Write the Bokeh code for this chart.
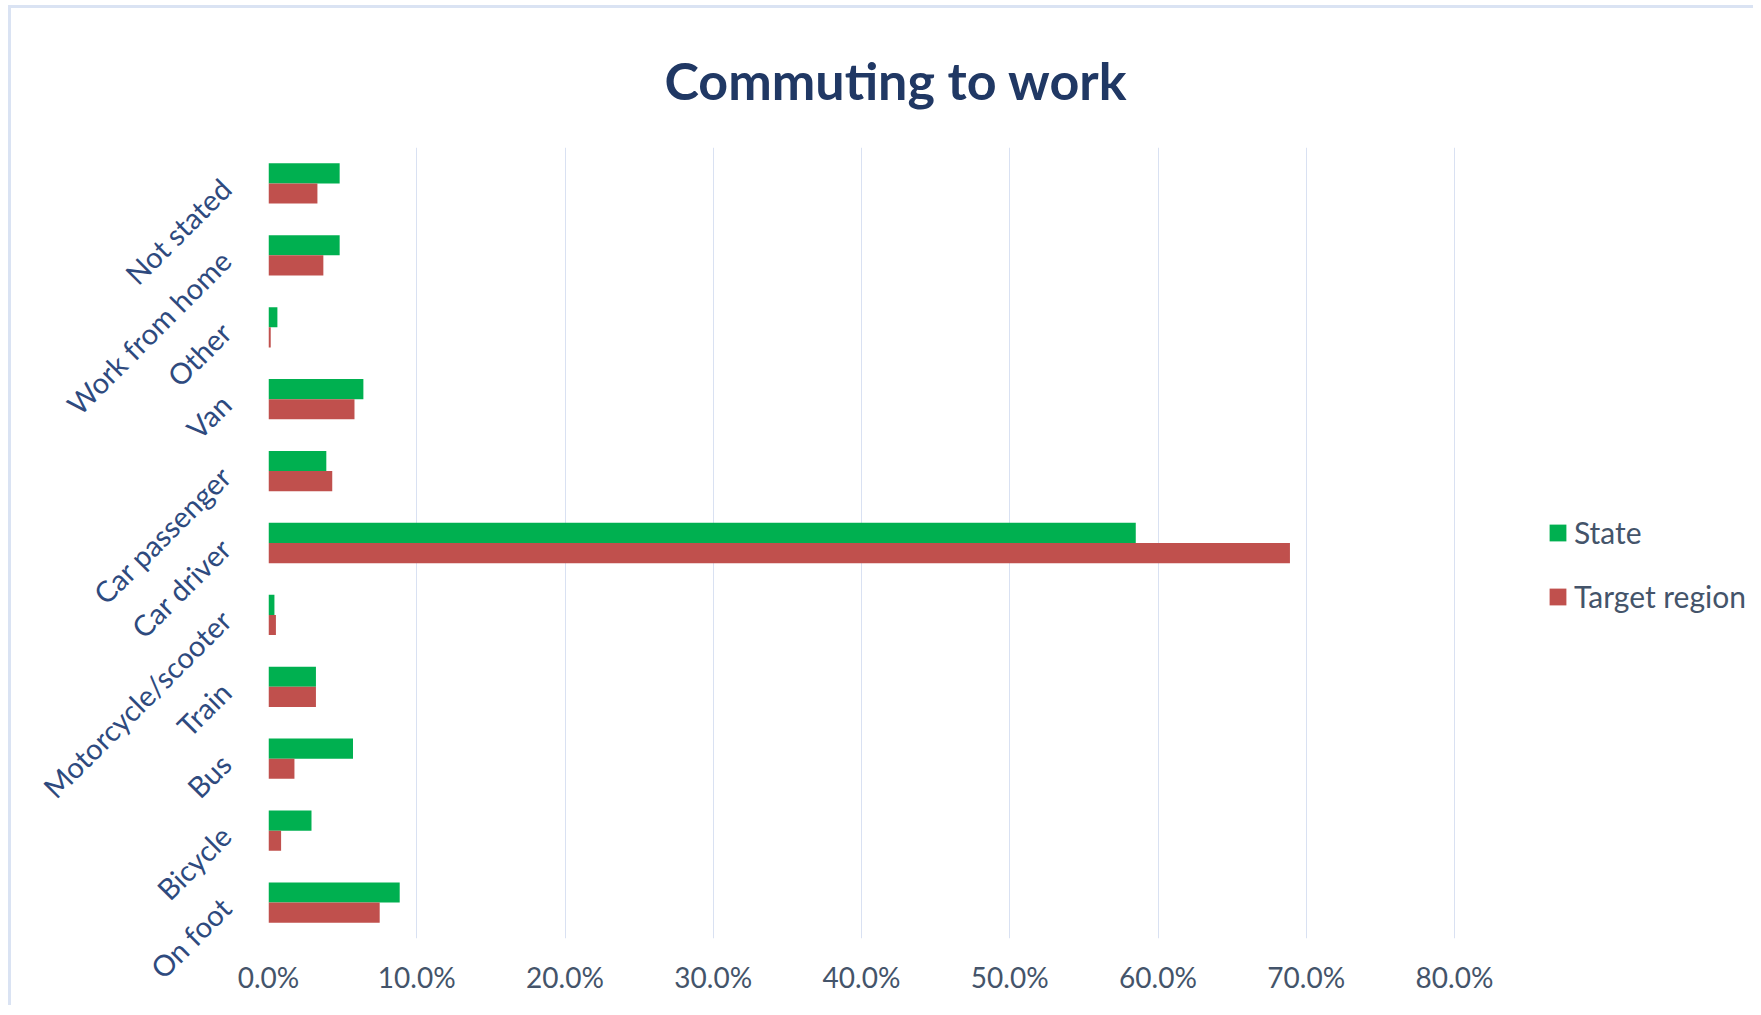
from bokeh.plotting import figure
from bokeh.models import (ColumnDataSource, FactorRange, Range1d, PrintfTickFormatter,
                          FixedTicker, Legend, LegendItem)
from bokeh.transform import dodge
from bokeh.embed import file_html
from bokeh.resources import INLINE
import math

# ---- data (bottom to top) ----
categories = ["On foot", "Bicycle", "Bus", "Train", "Motorcycle/scooter", "Car driver",
              "Car passenger", "Van", "Other", "Work from home", "Not stated"]
state = [8.85, 2.9, 5.7, 3.2, 0.4, 58.5, 3.9, 6.4, 0.6, 4.8, 4.8]
target_region = [7.5, 0.85, 1.75, 3.2, 0.5, 68.9, 4.3, 5.8, 0.15, 3.7, 3.3]
x_ticks = [0, 10, 20, 30, 40, 50, 60, 70, 80]
series_names = ["State", "Target region"]
chart_title = "Commuting to work"

source = ColumnDataSource(dict(cat=categories, state=state, target=target_region))

W, H = 1745, 1000
FL, FT, FB = 257, 139, 930
AXIS_W = 1186          # pixel width of the 0..80% span
x_end = x_ticks[-1] * (W - FL) / AXIS_W

p = figure(width=W, height=H, y_range=FactorRange(*categories), x_range=Range1d(0, x_end),
           output_backend="svg", toolbar_location=None,
           min_border_left=FL, min_border_right=0, min_border_top=FT, min_border_bottom=H - FB)

p.styles = {"border-top": "3px solid #DAE3F3", "border-left": "3px solid #DAE3F3",
            "margin-left": "8px", "margin-top": "5px"}

green = "#00B050"
red = "#C0504D"

r1 = p.hbar(y=dodge("cat", 0.14, range=p.y_range), right="state", left=0, height=0.28,
            source=source, fill_color=green, line_color=None)
r2 = p.hbar(y=dodge("cat", -0.14, range=p.y_range), right="target", left=0, height=0.28,
            source=source, fill_color=red, line_color=None)

# title
p.title.text = chart_title
p.title.text_font = "Lato"
p.title.text_font_size = "52px"
p.title.text_font_style = "bold"
p.title.text_color = "#203864"
p.title.align = "left"
p.title.offset = 396
p.title.standoff = 73

# axes
xa = p.below[0]
xa.ticker = FixedTicker(ticks=x_ticks)
xa.formatter = PrintfTickFormatter(format="%.1f%%")
xa.axis_line_color = None
xa.major_tick_line_color = None
xa.minor_tick_line_color = None
xa.major_label_text_font = "Lato"
xa.major_label_text_font_size = "28px"
xa.major_label_text_color = "#44546A"
xa.major_label_standoff = 15

ya = p.left[0]
ya.axis_line_color = None
ya.major_tick_line_color = None
ya.minor_tick_line_color = None
ya.major_label_text_font = "Lato"
ya.major_label_text_font_size = "29px"
ya.major_label_text_color = "#2E4A7E"
ya.major_label_orientation = math.pi / 4
ya.major_label_standoff = 37

p.xgrid.grid_line_color = "#D9E1F2"
p.xgrid.grid_line_width = 1
p.ygrid.grid_line_color = None

p.outline_line_color = None
p.background_fill_color = "white"
p.border_fill_color = "white"

legend = Legend(items=[LegendItem(label=series_names[0], renderers=[r1]),
                       LegendItem(label=series_names[1], renderers=[r2])],
                location=(1279, 324), orientation="vertical")
legend.label_text_font = "Lato"
legend.label_text_font_size = "30px"
legend.label_text_color = "#44546A"
legend.glyph_width = 21
legend.glyph_height = 21
legend.label_height = 32
legend.spacing = 28
legend.padding = 0
legend.margin = 0
legend.label_standoff = 6
legend.border_line_color = None
legend.background_fill_alpha = 0
p.add_layout(legend, "center")

open("out.html", "w").write(file_html(p, INLINE))
